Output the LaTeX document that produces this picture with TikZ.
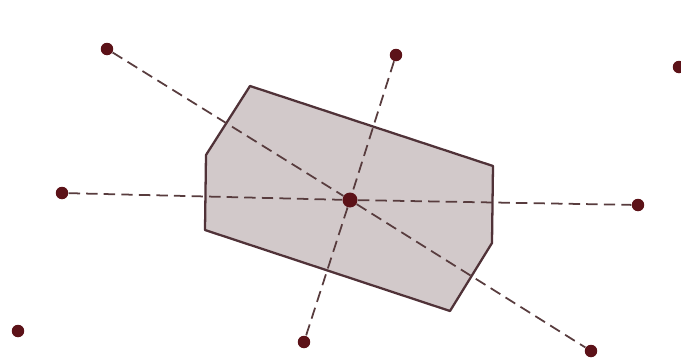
\documentclass[tikz,border=0pt]{standalone}
\usepackage{tikz}
\usetikzlibrary{calc}
\definecolor{DotRed}{RGB}{92,18,24}
\definecolor{RayGray}{RGB}{88,60,62}
\definecolor{HullFill}{RGB}{210,201,202}
\definecolor{HullEdge}{RGB}{80,50,56}

\begin{document}
\begin{tikzpicture}[x=0.02cm,y=-0.02cm,
    dot/.style={circle,fill=DotRed,inner sep=0pt,minimum size=0.25cm},
    ray/.style={RayGray,line width=1pt,dash pattern=on 6.5pt off 3.5pt}]
  \useasboundingbox (0,0) rectangle (681,362);
  % shaded polygon
  \filldraw[fill=HullFill,draw=HullEdge,line width=1.3pt,line join=round]
    (250,86) -- (493,166) -- (492,243) -- (450,311) -- (205,230) -- (206,155) -- cycle;
  % points
  \node[dot,minimum size=0.3cm] (c) at (350,200) {};
  \node[dot] (tl) at (107,49) {};
  \node[dot] (t) at (396,55) {};
  \node[dot] (tr) at (679,67) {};
  \node[dot] (l) at (62,193) {};
  \node[dot] (r) at (638,205) {};
  \node[dot] (bl) at (18,331) {};
  \node[dot] (b) at (304,342) {};
  \node[dot] (br) at (591,351) {};
  % dashed lines through the centre
  \foreach \a/\b in {tl/br,t/b,l/r} {
    \draw[ray] (\a) -- (c);
    \draw[ray] (c) -- (\b);
  }
\end{tikzpicture}
\end{document}
